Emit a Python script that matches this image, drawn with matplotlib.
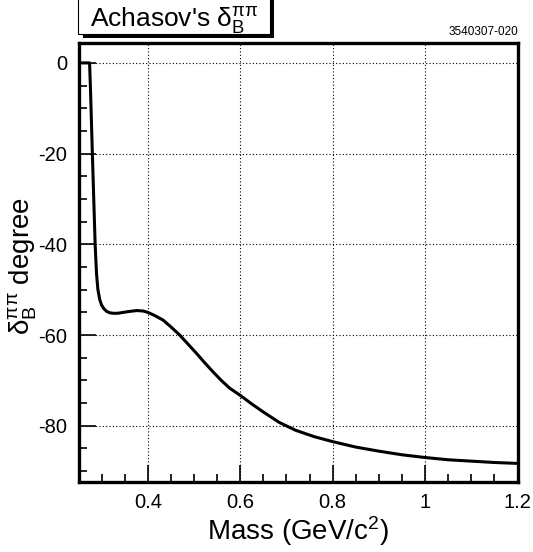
import numpy as np
import matplotlib
matplotlib.use("Agg")
import matplotlib.pyplot as plt
from matplotlib.patches import Rectangle
from matplotlib.ticker import MultipleLocator

plt.rcParams['font.family'] = ['Liberation Sans', 'DejaVu Sans']
plt.rcParams['mathtext.fontset'] = 'custom'
plt.rcParams['mathtext.rm'] = 'Liberation Sans'
plt.rcParams['mathtext.it'] = 'Liberation Sans'

# phase
mass = [0.25, 0.274, 0.276, 0.278, 0.280, 0.283, 0.286, 0.289, 0.292, 0.296,
        0.300, 0.305, 0.311, 0.318, 0.325, 0.335, 0.347, 0.360, 0.376, 0.390,
        0.400, 0.415, 0.433, 0.450, 0.469, 0.487, 0.505, 0.523, 0.541, 0.559,
        0.577, 0.600, 0.625, 0.649, 0.685, 0.720, 0.760, 0.800, 0.850, 0.900,
        0.950, 1.000, 1.050, 1.100, 1.150, 1.200]
delta = [0, 0, -6, -13, -20, -30, -40, -46.5, -50, -52.2,
         -53.4, -54.2, -54.8, -55.1, -55.2, -55.2, -55.0, -54.8, -54.6, -54.7,
         -55.0, -55.7, -56.7, -58.2, -60.0, -62.0, -64.0, -66.1, -68.1, -70.0,
         -71.7, -73.3, -75.2, -76.9, -79.3, -81.0, -82.4, -83.5, -84.7, -85.6,
         -86.4, -87.0, -87.5, -87.8, -88.1, -88.3]
xtick_vals = [0.4, 0.6, 0.8, 1.0, 1.2]
xtick_labels = ['0.4', '0.6', '0.8', '1', '1.2']
ytick_vals = [0, -20, -40, -60, -80]
ytick_labels = ['0', '-20', '-40', '-60', '-80']

W, H = 533, 552
fig = plt.figure(figsize=(W / 100, H / 100), dpi=100)
ax = fig.add_axes([78.5 / W, 1 - 482 / H, 439 / W, 439.5 / H])

ax.plot(mass, delta, color='black', lw=2.2, solid_joinstyle='round')
ax.set_xlim(0.25, 1.2)
ax.set_ylim(-92.4, 4.5)

ax.xaxis.set_minor_locator(MultipleLocator(0.05))
ax.yaxis.set_minor_locator(MultipleLocator(5))
ax.set_xticks(xtick_vals)
ax.set_xticklabels(xtick_labels)
ax.set_yticks(ytick_vals)
ax.set_yticklabels(ytick_labels)

ax.tick_params(which='both', direction='in', top=False, right=False,
               labelsize=14.5, width=1.2, color='black')
ax.tick_params(which='major', length=12, pad=8)
ax.tick_params(which='minor', length=6)
ax.grid(True, which='major', linestyle=(0, (1, 2)), color='black', lw=0.8)

for s in ax.spines.values():
    s.set_linewidth(2.4)

fig.text(298 / W, 1 - 540 / H, 'Mass (GeV/c$^2$)', ha='center', va='baseline',
         fontsize=20)
fig.text(23 / W, 1 - 266 / H, r'$\mathrm{\delta}_\mathrm{B}^{\mathrm{\pi\pi}}$ degree',
         rotation=90, ha='center', va='center', fontsize=20)

# title box with shadow
fig.patches.append(Rectangle((83 / W, 1 - 37.5 / H), 191 / W, 50 / H,
                             transform=fig.transFigure, facecolor='black',
                             edgecolor='none'))
fig.patches.append(Rectangle((78.3 / W, 1 - 33.5 / H), 191.7 / W, 50 / H,
                             transform=fig.transFigure, facecolor='white',
                             edgecolor='black', lw=0.8))
fig.text(90 / W, 1 - 27 / H,
         r"Achasov's $\mathrm{\delta}_\mathrm{B}^{\mathrm{\pi\pi}}$",
         ha='left', va='baseline', fontsize=19)
fig.text(518 / W, 1 - 35 / H, '3540307-020', ha='right', va='baseline',
         fontsize=8.5)

fig.savefig('out.png', dpi=100)
